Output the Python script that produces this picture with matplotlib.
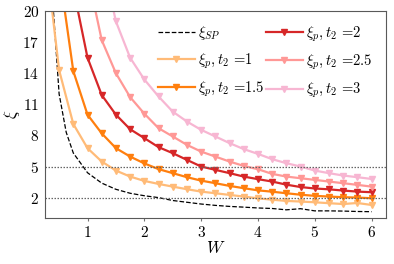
import matplotlib
matplotlib.use("Agg")
import matplotlib.pyplot as plt

plt.rcParams['font.family'] = 'serif'
plt.rcParams['font.serif'] = ['cmr10', 'DejaVu Serif']
plt.rcParams['mathtext.fontset'] = 'cm'
plt.rcParams['axes.formatter.use_mathtext'] = True
plt.rcParams['font.size'] = 10

W = [0.25, 0.5, 0.75, 1.0, 1.25, 1.5, 1.75, 2.0, 2.25, 2.5, 2.75, 3.0,
     3.25, 3.5, 3.75, 4.0, 4.25, 4.5, 4.75, 5.0, 5.25, 5.5, 5.75, 6.0]

xi_t1 = [26.0, 14.3, 9.1, 6.77, 5.48, 4.61, 4.03, 3.61, 3.32, 3.06, 2.81, 2.58,
         2.42, 2.26, 2.10, 1.93, 1.80, 1.68, 1.62, 1.55, 1.46, 1.38, 1.48, 1.29]
xi_t15 = [45.0, 23.9, 14.2, 10.0, 8.2, 6.77, 5.96, 5.30, 4.75, 4.36, 3.97, 3.64,
          3.39, 3.13, 2.91, 2.70, 2.57, 2.42, 2.28, 2.17, 2.10, 2.04, 2.00, 1.94]
xi_t2 = [60.0, 35.0, 22.2, 15.5, 11.9, 10.0, 8.6, 7.74, 6.87, 6.29, 5.64, 5.0,
         4.68, 4.36, 4.03, 3.78, 3.55, 3.25, 3.02, 2.88, 2.80, 2.68, 2.58, 2.52]
xi_t25 = [100.0, 50.0, 33.0, 23.6, 17.2, 14.0, 11.7, 10.1, 8.7, 7.9, 7.09, 6.44,
          5.96, 5.48, 5.06, 4.74, 4.29, 4.03, 3.87, 3.71, 3.55, 3.39, 3.23, 3.06]
xi_t3 = [150.0, 80.0, 50.0, 35.0, 25.25, 19.0, 15.5, 13.4, 11.76, 10.3, 9.34, 8.54,
         7.9, 7.26, 6.68, 6.22, 5.71, 5.32, 5.0, 4.61, 4.36, 4.13, 3.97, 3.8]

W_sp = [0.3, 0.4, 0.5, 0.625, 0.75, 1.0, 1.25, 1.5, 1.75, 2.0, 2.25, 2.5, 2.75,
        3.0, 3.25, 3.5, 3.75, 4.0, 4.25, 4.5, 4.75, 5.0, 5.25, 5.5, 5.75, 6.0]
xi_sp = [30.0, 20.0, 12.0, 8.3, 6.3, 4.4, 3.4, 2.8, 2.42, 2.18, 2.0, 1.72, 1.55,
         1.38, 1.25, 1.15, 1.08, 1.0, 0.95, 0.82, 0.93, 0.72, 0.72, 0.70, 0.66, 0.64]

t2_labels = ['1', '1.5', '2', '2.5', '3']
colors = ['#ffbb78', '#ff7f0e', '#d62728', '#ff9896', '#f7b6d2']
series = [xi_t1, xi_t15, xi_t2, xi_t25, xi_t3]

fig = plt.figure(figsize=(3.94, 2.64), dpi=100)
ax = fig.add_axes([0.114, 0.173, 0.865, 0.785])

ax.plot(W_sp, xi_sp, color='black', ls='--', lw=0.9, label=r'$\xi_{SP}$')
for ys, c, lab in zip(series, colors, t2_labels):
    ax.plot(W, ys, color=c, lw=1.6, marker='v', ms=4.5,
            label=r'$\xi_p, t_2$ =' + lab)

ax.axhline(5, color='0.4', ls=(0, (1.2, 1.2)), lw=0.9)
ax.axhline(2, color='0.4', ls=(0, (1.2, 1.2)), lw=0.9)

ax.set_xlim(0.25, 6.25)
ax.set_ylim(0, 20)
ax.set_yticks([2, 5, 8, 11, 14, 17, 20])
ax.set_xticks([1, 2, 3, 4, 5, 6])
ax.set_xlabel(r'$W$', fontsize=12, labelpad=0)
ax.set_ylabel(r'$\xi$', fontsize=12, labelpad=0)
for s in ax.spines.values():
    s.set_color('0.35')
ax.tick_params(axis='x', colors='0.45', labelcolor='black', labelsize=11,
               length=2.5, pad=2)
ax.tick_params(axis='y', labelcolor='black', labelsize=11, length=0, pad=4)

handles, labels = ax.get_legend_handles_labels()
ax.legend(handles, labels, ncol=2, loc='upper right', frameon=False,
          bbox_to_anchor=(0.99, 0.985), handlelength=2.5, handletextpad=0.2,
          columnspacing=0.15, labelspacing=0.6, fontsize=10.5, borderaxespad=0.3)

fig.savefig('out.png', dpi=100)
